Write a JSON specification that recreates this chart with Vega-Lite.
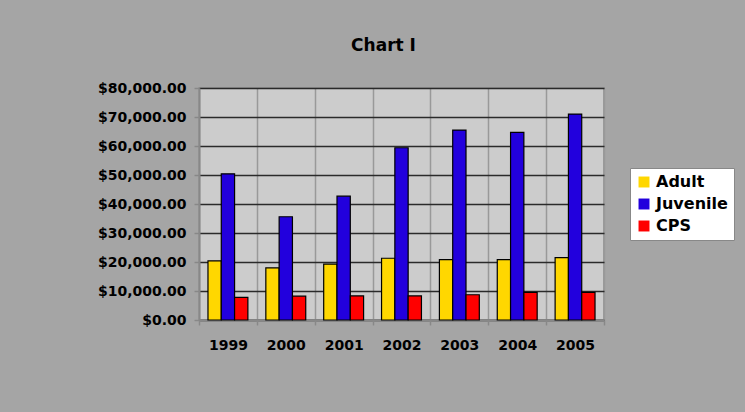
{
  "$schema": "https://vega.github.io/schema/vega-lite/v6.json",
  "autosize": "none",
  "width": 405,
  "height": 232,
  "padding": {"left": 199, "top": 88, "right": 141, "bottom": 92},
  "background": "#a5a5a5",
  "title": {"text": "Chart I", "fontSize": 17, "font": "DejaVu Sans", "fontWeight": "bold", "color": "#000000", "offset": 26, "dx": -18},
  "data": {"values": [
    {"year": "1999", "series": "Adult", "value": 20400},
    {"year": "1999", "series": "Juvenile", "value": 50400},
    {"year": "1999", "series": "CPS", "value": 7800},
    {"year": "2000", "series": "Adult", "value": 18000},
    {"year": "2000", "series": "Juvenile", "value": 35600},
    {"year": "2000", "series": "CPS", "value": 8200},
    {"year": "2001", "series": "Adult", "value": 19300},
    {"year": "2001", "series": "Juvenile", "value": 42700},
    {"year": "2001", "series": "CPS", "value": 8300},
    {"year": "2002", "series": "Adult", "value": 21300},
    {"year": "2002", "series": "Juvenile", "value": 59400},
    {"year": "2002", "series": "CPS", "value": 8300},
    {"year": "2003", "series": "Adult", "value": 20800},
    {"year": "2003", "series": "Juvenile", "value": 65500},
    {"year": "2003", "series": "CPS", "value": 8700},
    {"year": "2004", "series": "Adult", "value": 20800},
    {"year": "2004", "series": "Juvenile", "value": 64700},
    {"year": "2004", "series": "CPS", "value": 9500},
    {"year": "2005", "series": "Adult", "value": 21500},
    {"year": "2005", "series": "Juvenile", "value": 71000},
    {"year": "2005", "series": "CPS", "value": 9500}
  ]},
  "mark": {"type": "bar", "stroke": "#000000", "strokeWidth": 1.2},
  "encoding": {
    "x": {
      "field": "year", "type": "ordinal", "title": null,
      "scale": {"paddingInner": 0, "paddingOuter": 0},
      "axis": {
        "tickBand": "extent", "grid": true, "gridColor": "#999999", "gridWidth": 1.5,
        "ticks": true, "tickColor": "#888888", "tickSize": 5, "tickWidth": 1.5,
        "domain": true, "domainColor": "#888888", "domainWidth": 2,
        "labelAngle": 0, "labelFont": "DejaVu Sans", "labelFontWeight": "bold", "labelFontSize": 14,
        "labelColor": "#000000", "labelPadding": 13
      }
    },
    "xOffset": {"field": "series", "sort": ["Adult", "Juvenile", "CPS"], "scale": {"paddingInner": 0, "paddingOuter": 0.675}},
    "y": {
      "field": "value", "type": "quantitative", "title": null,
      "scale": {"domain": [0, 80000], "nice": false},
      "axis": {
        "values": [0, 10000, 20000, 30000, 40000, 50000, 60000, 70000, 80000],
        "format": "$,.2f",
        "grid": true, "gridColor": "#2a2a2a", "gridWidth": 1.6,
        "ticks": true, "tickColor": "#888888", "tickSize": 5, "tickWidth": 1.5,
        "domain": true, "domainColor": "#888888", "domainWidth": 2,
        "labelFont": "DejaVu Sans", "labelFontWeight": "bold", "labelFontSize": 14,
        "labelColor": "#000000", "labelPadding": 8
      }
    },
    "color": {
      "field": "series", "type": "nominal",
      "scale": {"domain": ["Adult", "Juvenile", "CPS"], "range": ["#FFD700", "#2200DD", "#FF0000"]},
      "legend": {
        "title": null, "orient": "none", "legendX": 431, "legendY": 80,
        "fillColor": "#ffffff", "strokeColor": "#888888", "padding": 6,
        "symbolType": "square", "symbolSize": 120, "symbolStrokeWidth": 0,
        "labelFont": "DejaVu Sans", "labelFontWeight": "bold", "labelFontSize": 16,
        "labelColor": "#000000", "rowPadding": 6, "labelOffset": 4
      }
    }
  },
  "config": {"view": {"fill": "#cccccc", "stroke": "#999999", "strokeWidth": 2}}
}
